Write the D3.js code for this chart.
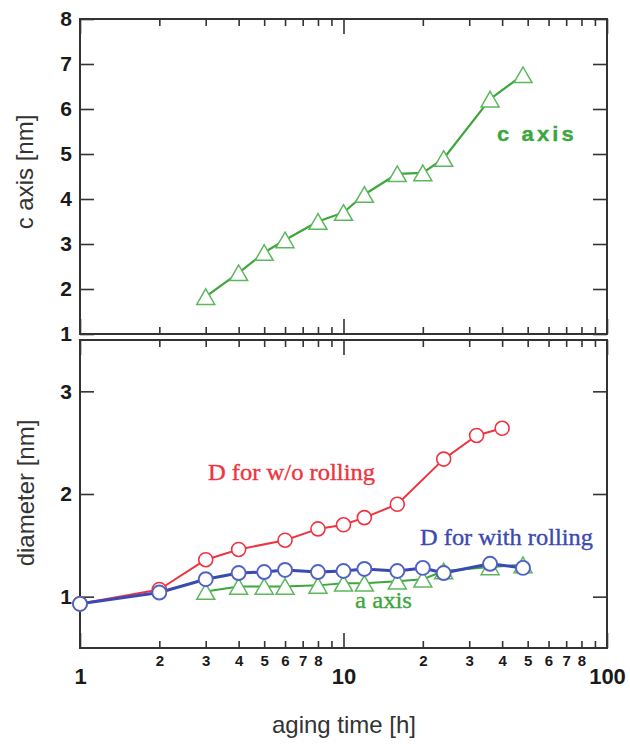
<!DOCTYPE html>
<html>
<head>
<meta charset="utf-8">
<script src="https://cdn.jsdelivr.net/npm/d3@7"></script>
<style>
  html, body { margin: 0; padding: 0; background: #fff; }
  svg { display: block; }
</style>
</head>
<body>
<svg id="chart" width="630" height="744"></svg>
<script>
// aging times [h]
const timesC = [3, 4, 5, 6, 8, 10, 12, 16, 20, 24, 36, 48];
const cAxis = [1.83, 2.36, 2.81, 3.09, 3.50, 3.70, 4.10, 4.56, 4.58, 4.90, 6.22, 6.76];

const timesA = [3, 4, 5, 6, 8, 10, 12, 16, 20, 24, 36, 48];
const aAxis = [1.05, 1.10, 1.10, 1.10, 1.11, 1.13, 1.13, 1.15, 1.17, 1.25, 1.29, 1.31];

const timesNoRoll = [1, 2, 3, 4, 6, 8, 10, 12, 16, 24, 32, 40];
const dNoRoll = [0.93, 1.07, 1.36, 1.46, 1.55, 1.66, 1.70, 1.77, 1.90, 2.34, 2.57, 2.64];

const timesRoll = [1, 2, 3, 4, 5, 6, 8, 10, 12, 16, 20, 24, 36, 48];
const dRoll = [0.93, 1.04, 1.17, 1.23, 1.24, 1.26, 1.24, 1.25, 1.27, 1.25, 1.28, 1.23, 1.32, 1.28];

const topYTicks = [1, 2, 3, 4, 5, 6, 7, 8];
const bottomYTicks = [1, 2, 3];
const majorX = [1, 10, 100];
const minorX = [2, 3, 4, 5, 6, 7, 8, 9, 20, 30, 40, 50, 60, 70, 80, 90];
const minorXLabels = [2, 3, 4, 5, 6, 7, 8, 20, 30, 40, 50, 60, 70, 80];

const svg = d3.select("#chart");
const ink = "#333";
const green = "#3da63d", greenMark = "#5cb85c";
const red = "#ee3440", blue = "#3a4ab0", blueMark = "#5262c4";

const left = 80, right = 607;
const x = d3.scaleLog().domain([1, 100]).range([left, right]);
const yTop = d3.scaleLinear().domain([1, 8]).range([334, 19]);
const yBot = d3.scaleLinear().domain([0.5, 3.5]).range([648, 340]);

function frame(y) {
  const [y1, y0] = y.range();
  svg.append("rect")
    .attr("x", left).attr("y", y0)
    .attr("width", right - left).attr("height", y1 - y0)
    .attr("fill", "none").attr("stroke", ink).attr("stroke-width", 2);
}

function styleAxis(g) {
  g.select(".domain").remove();
  g.selectAll(".tick line").attr("stroke", ink).attr("stroke-width", 1.6);
  g.selectAll(".tick text")
    .attr("fill", "#1a1a1a")
    .style("font-family", "'Liberation Sans', Arial, sans-serif")
    .style("font-weight", "bold");
}

function xTicks(y, withLabels) {
  const [y1, y0] = y.range();
  // bottom edge: minor ticks with single-digit labels, then the decades
  svg.append("g").attr("transform", `translate(0,${y1})`)
    .call(d3.axisBottom(x).tickValues(minorX).tickSize(-7).tickPadding(7)
      .tickFormat(d => withLabels && minorXLabels.includes(d) ? String(d < 10 ? d : d / 10) : ""))
    .call(styleAxis)
    .call(g => g.selectAll("text").style("font-size", "15px"));
  svg.append("g").attr("transform", `translate(0,${y1})`)
    .call(d3.axisBottom(x).tickValues(majorX).tickSize(-15).tickPadding(20)
      .tickFormat(d => withLabels ? String(d) : ""))
    .call(styleAxis)
    .call(g => g.selectAll("text").style("font-size", "22px"));
  // top edge
  svg.append("g").attr("transform", `translate(0,${y0})`)
    .call(d3.axisTop(x).tickValues(minorX).tickSize(-7).tickFormat(""))
    .call(styleAxis);
  svg.append("g").attr("transform", `translate(0,${y0})`)
    .call(d3.axisTop(x).tickValues(majorX).tickSize(-15).tickFormat(""))
    .call(styleAxis);
}

function yTicks(y, values) {
  svg.append("g").attr("transform", `translate(${left},0)`)
    .call(d3.axisLeft(y).tickValues(values).tickSize(-14).tickPadding(8).tickFormat(d3.format("d")))
    .call(styleAxis)
    .call(g => g.selectAll("text").style("font-size", "21px"));
  svg.append("g").attr("transform", `translate(${right},0)`)
    .call(d3.axisRight(y).tickValues(values).tickSize(-14).tickFormat(""))
    .call(styleAxis);
}

const triPath = (() => {
  const w = 18, h = 15.6;
  return `M0,${-h / 2}L${w / 2},${h / 2}L${-w / 2},${h / 2}Z`;
})();

function series(xs, ys, y, opts) {
  const pts = xs.map((t, i) => [t, ys[i]]);
  svg.append("path").datum(pts)
    .attr("fill", "none").attr("stroke", opts.line).attr("stroke-width", opts.width)
    .attr("stroke-linejoin", "round")
    .attr("d", d3.line().x(d => x(d[0])).y(d => y(d[1])));
  const g = svg.append("g");
  if (opts.shape === "circle") {
    g.selectAll("circle").data(pts).join("circle")
      .attr("cx", d => x(d[0])).attr("cy", d => y(d[1])).attr("r", 7)
      .attr("fill", "#fff").attr("stroke", opts.mark).attr("stroke-width", opts.markWidth || 1.6);
  } else {
    g.selectAll("path").data(pts).join("path")
      .attr("transform", d => `translate(${x(d[0])},${y(d[1])})`)
      .attr("d", triPath)
      .attr("fill", "#fff").attr("stroke", opts.mark).attr("stroke-width", 1.5);
  }
}

function label(text, px, py, color, family, size, weight, len, spacing) {
  const t = svg.append("text")
    .attr("x", px).attr("y", py).attr("fill", color)
    .attr("stroke", color).attr("stroke-width", 0.35)
    .style("font-family", family).style("font-size", size + "px")
    .style("font-weight", weight)
    .text(text);
  if (spacing) t.style("letter-spacing", spacing + "px");
  if (len) t.attr("textLength", len).attr("lengthAdjust", "spacingAndGlyphs");
  return t;
}

// upper panel: c axis
frame(yTop);
xTicks(yTop, false);
yTicks(yTop, topYTicks);
series(timesC, cAxis, yTop, { line: green, mark: greenMark, width: 2.2, shape: "tri" });

// lower panel: diameters and a axis
frame(yBot);
xTicks(yBot, true);
yTicks(yBot, bottomYTicks);
series(timesA, aAxis, yBot, { line: green, mark: greenMark, width: 2, shape: "tri" });
series(timesNoRoll, dNoRoll, yBot, { line: red, mark: red, width: 2, shape: "circle" });
series(timesRoll, dRoll, yBot, { line: blue, mark: blueMark, width: 3, shape: "circle", markWidth: 1.9 });

// series labels
const sans = "'Liberation Sans', Arial, sans-serif";
const serif = "'Liberation Serif', 'Times New Roman', serif";
label("c axis", 497, 141, green, sans, 21, "bold", 80, 3);
label("D for w/o rolling", 208, 480, red, serif, 23, "normal", 167);
label("D for with rolling", 420, 545, blue, serif, 23, "normal", 173);
label("a axis", 355, 608, green, serif, 23, "normal", 57);

// axis titles
svg.append("text")
  .attr("transform", "translate(25,172) rotate(-90)")
  .attr("text-anchor", "middle").attr("dy", "0.35em")
  .attr("fill", ink).style("font-family", sans).style("font-size", "24px")
  .text("c axis [nm]");
svg.append("text")
  .attr("transform", "translate(26,493) rotate(-90)")
  .attr("text-anchor", "middle").attr("dy", "0.35em")
  .attr("fill", ink).style("font-family", sans).style("font-size", "24px")
  .text("diameter [nm]");
svg.append("text")
  .attr("x", 344).attr("y", 733)
  .attr("text-anchor", "middle")
  .attr("fill", ink).style("font-family", sans).style("font-size", "24px")
  .text("aging time [h]");
</script>
</body>
</html>
